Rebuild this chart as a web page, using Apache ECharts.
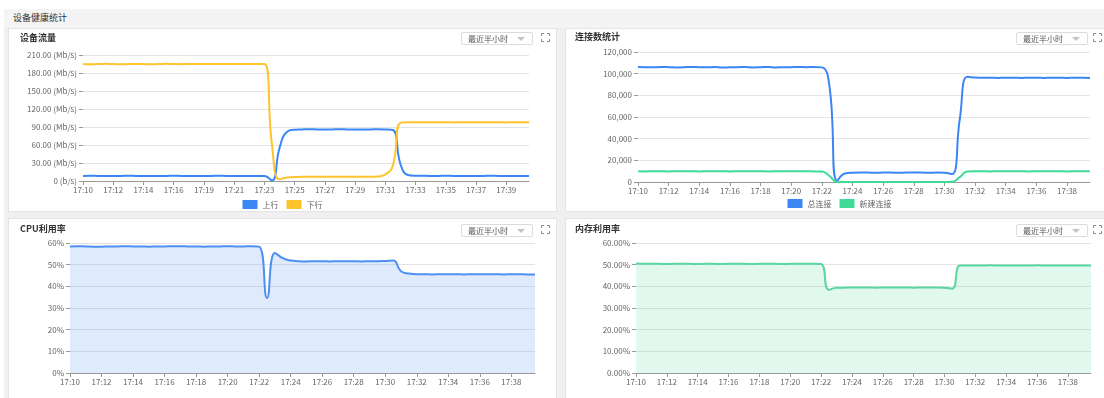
<!DOCTYPE html>
<html>
<head>
<meta charset="utf-8">
<script src="https://cdn.jsdelivr.net/npm/echarts@6/dist/echarts.min.js"></script>
<style>
html,body{margin:0;padding:0;width:1104px;height:398px;overflow:hidden;background:#fff;font-family:"Noto Sans CJK SC","Noto Sans",sans-serif;}
#page{position:absolute;left:4px;top:9px;width:1120px;height:400px;background:#f0f0f0;}
#head{position:absolute;left:4px;top:9px;width:1120px;height:19px;background:#f4f4f4;}
#head span{position:absolute;left:9px;top:3px;font-size:9px;color:#333;line-height:12px;}
.panel{position:absolute;width:547px;height:182px;background:#fff;border:1px solid #e4e4e4;}
.title{position:absolute;font-size:9px;font-weight:bold;color:#333;line-height:12px;white-space:nowrap;}
.chart{position:absolute;left:0;top:0;width:547px;height:182px;}
.sel{position:absolute;width:70px;height:11px;border:1px solid #dcdcdc;border-radius:2px;background:#fff;}
.sel span{position:absolute;left:6px;top:0;font-size:8px;line-height:11px;color:#555;white-space:nowrap;}
.sel i{position:absolute;right:7px;top:4px;width:0;height:0;border-left:4px solid transparent;border-right:4px solid transparent;border-top:4px solid #c4c4c4;}
.full{position:absolute;width:9px;height:9px;}
</style>
</head>
<body>
<div id="page"></div>
<div id="head"><span>设备健康统计</span></div>

<div class="panel" style="left:8px;top:28px;">
  <div class="chart" id="c1"></div>
  <div class="title" style="left:11px;top:3px;">设备流量</div>
  <div class="sel" style="left:452px;top:3px;"><span>最近半小时</span><i></i></div>
  <svg class="full" style="left:532px;top:4px;" viewBox="0 0 9 9"><path d="M0.5 3V0.5H3M6 0.5H8.5V3M8.5 6V8.5H6M3 8.5H0.5V6" stroke="#8a8a8a" fill="none"/></svg>
</div>
<div class="panel" style="left:565px;top:28px;">
  <div class="chart" id="c2"></div>
  <div class="title" style="left:9px;top:2px;">连接数统计</div>
  <div class="sel" style="left:450px;top:3px;"><span>最近半小时</span><i></i></div>
  <svg class="full" style="left:527px;top:4px;" viewBox="0 0 9 9"><path d="M0.5 3V0.5H3M6 0.5H8.5V3M8.5 6V8.5H6M3 8.5H0.5V6" stroke="#8a8a8a" fill="none"/></svg>
</div>
<div class="panel" style="left:8px;top:218px;">
  <div class="chart" id="c3"></div>
  <div class="title" style="left:11px;top:4px;">CPU利用率</div>
  <div class="sel" style="left:452px;top:5px;"><span>最近半小时</span><i></i></div>
  <svg class="full" style="left:532px;top:6px;" viewBox="0 0 9 9"><path d="M0.5 3V0.5H3M6 0.5H8.5V3M8.5 6V8.5H6M3 8.5H0.5V6" stroke="#8a8a8a" fill="none"/></svg>
</div>
<div class="panel" style="left:565px;top:218px;">
  <div class="chart" id="c4"></div>
  <div class="title" style="left:9px;top:4px;">内存利用率</div>
  <div class="sel" style="left:450px;top:5px;"><span>最近半小时</span><i></i></div>
  <svg class="full" style="left:527px;top:6px;" viewBox="0 0 9 9"><path d="M0.5 3V0.5H3M6 0.5H8.5V3M8.5 6V8.5H6M3 8.5H0.5V6" stroke="#8a8a8a" fill="none"/></svg>
</div>

<script>
// Sample times for the traffic panel
const trafficTimes = [
  '17:10:42','17:11:13','17:11:44','17:12:15','17:12:47','17:13:18','17:13:49','17:14:20','17:14:52','17:15:23',
  '17:15:54','17:16:25','17:16:57','17:17:28','17:17:59','17:18:30','17:19:02','17:19:33','17:20:04','17:20:35',
  '17:21:07','17:21:38','17:22:09','17:22:40','17:23:12','17:23:43','17:24:14','17:24:45','17:25:17','17:25:48',
  '17:26:19','17:26:50','17:27:22','17:27:53','17:28:24','17:28:55','17:29:27','17:29:58','17:30:29','17:31:00',
  '17:31:32','17:32:03','17:32:34','17:33:05','17:33:37','17:34:08','17:34:39','17:35:10','17:35:42','17:36:13',
  '17:36:44','17:37:15','17:37:47','17:38:18','17:38:49','17:39:20','17:39:52','17:40:23','17:40:54','17:41:25'
];
// Sample times for connections, CPU and memory panels
const statTimes = [
  '17:10:00','17:10:30','17:11:00','17:11:30','17:12:00','17:12:30','17:13:00','17:13:30','17:14:00','17:14:30',
  '17:15:00','17:15:30','17:16:00','17:16:30','17:17:00','17:17:30','17:18:00','17:18:30','17:19:00','17:19:30',
  '17:20:00','17:20:30','17:21:00','17:21:30','17:22:00','17:22:30','17:23:00','17:23:30','17:24:00','17:24:30',
  '17:25:00','17:25:30','17:26:00','17:26:30','17:27:00','17:27:30','17:28:00','17:28:30','17:29:00','17:29:30',
  '17:30:00','17:30:30','17:31:00','17:31:30','17:32:00','17:32:30','17:33:00','17:33:30','17:34:00','17:34:30',
  '17:35:00','17:35:30','17:36:00','17:36:30','17:37:00','17:37:30','17:38:00','17:38:30','17:39:00','17:39:30'
];

// 上行 (Mb/s)
const upstream = [
  8.5, 8.6, 8.5, 8.4, 8.5, 8.5, 8.6, 8.5, 8.4, 8.5, 8.5, 8.5, 8.6, 8.5, 8.5, 8.4, 8.5, 8.5, 8.6, 8.5,
  8.5, 8.5, 8.4, 8.5, 8.2, 1.0, 55, 82, 85.5, 86, 86.2, 86, 85.8, 86, 86.1, 86, 86, 85.9, 86, 86.2,
  86, 85, 28, 10, 8.8, 8.6, 8.5, 8.5, 8.6, 8.5, 8.5, 8.4, 8.5, 8.5, 8.6, 8.5, 8.5, 8.5, 8.4, 8.5
];
// 下行 (Mb/s)
const downstream = [
  195, 194.6, 195, 195.3, 195, 194.5, 194.8, 195.2, 195, 194.6, 195, 195.3, 195, 194.7, 195, 195.2, 194.8, 195, 195, 195.2,
  194.8, 195, 195, 195, 195, 60, 3, 6, 6.5, 7, 7, 7, 7.2, 7, 7, 7, 7.1, 7, 7, 7.5,
  11, 26, 97, 98, 97.8, 97.8, 97.9, 97.8, 97.8, 97.7, 97.8, 97.8, 97.8, 97.9, 97.8, 97.8, 97.7, 97.8, 97.8, 97.8
];
// 总连接
const totalConn = [
  106200, 106000, 105900, 106100, 106000, 105800, 105900, 106200, 106000, 105900, 106100, 105700, 105900, 106000, 106100, 105800, 106000, 106200, 105800, 105900,
  106000, 106100, 106000, 106100, 105800, 88000, 1200, 7800, 8600, 8700, 8700, 8600, 8700, 8700, 8600, 8700, 8700, 8700, 8600, 8700,
  8500, 7300, 58000, 97200, 96400, 96200, 96200, 96100, 96200, 96200, 96100, 96200, 96200, 96100, 96200, 96200, 96100, 96200, 96200, 96100
];
// 新建连接
const newConn = [
  9900, 9800, 9900, 9900, 9800, 9900, 9900, 9900, 9800, 9900, 9900, 9900, 9800, 9900, 9900, 9900, 9900, 9800, 9900, 9900,
  9900, 9900, 9900, 9800, 9600, 5500, 100, 80, 60, 70, 50, 60, 80, 70, 60, 50, 70, 60, 80, 70,
  60, 300, 4500, 9800, 9900, 9900, 9800, 9900, 9900, 9900, 9900, 9800, 9900, 9900, 9900, 9900, 9800, 9900, 9900, 9900
];
// CPU利用率 (%)
const cpuUsage = [
  58.4, 58.5, 58.4, 58.3, 58.3, 58.4, 58.4, 58.5, 58.4, 58.4, 58.3, 58.4, 58.4, 58.5, 58.5, 58.4, 58.4, 58.3, 58.4, 58.4,
  58.5, 58.4, 58.4, 58.5, 58.3, 34.6, 55.4, 53.0, 51.9, 51.6, 51.5, 51.6, 51.6, 51.5, 51.6, 51.6, 51.6, 51.5, 51.6, 51.6,
  51.7, 51.9, 47.0, 45.9, 45.6, 45.6, 45.5, 45.6, 45.6, 45.6, 45.5, 45.6, 45.6, 45.6, 45.6, 45.5, 45.6, 45.6, 45.5, 45.5
];
// 内存利用率 (%)
const memUsage = [
  50.5, 50.4, 50.4, 50.4, 50.3, 50.4, 50.4, 50.4, 50.3, 50.4, 50.4, 50.3, 50.4, 50.4, 50.4, 50.3, 50.4, 50.4, 50.4, 50.3,
  50.4, 50.4, 50.4, 50.4, 50.3, 38.4, 39.3, 39.4, 39.5, 39.5, 39.5, 39.4, 39.5, 39.5, 39.5, 39.5, 39.4, 39.5, 39.5, 39.5,
  39.4, 38.9, 49.6, 49.6, 49.6, 49.6, 49.7, 49.6, 49.6, 49.6, 49.6, 49.6, 49.7, 49.6, 49.6, 49.6, 49.6, 49.6, 49.6, 49.6
];

// Y-axis tick labels
const trafficTicks = ['0 (b/s)', '30.00 (Mb/s)', '60.00 (Mb/s)', '90.00 (Mb/s)', '120.00 (Mb/s)', '150.00 (Mb/s)', '180.00 (Mb/s)', '210.00 (Mb/s)'];
const connTicks = ['0', '20,000', '40,000', '60,000', '80,000', '100,000', '120,000'];
const cpuTicks = ['0%', '10%', '20%', '30%', '40%', '50%', '60%'];
const memTicks = ['0.00%', '10.00%', '20.00%', '30.00%', '40.00%', '50.00%', '60.00%'];

const FONT = '"Noto Sans CJK SC", "Noto Sans", sans-serif';
const BLUE = '#3a86f3';
const YELLOW = '#fec42d';
const GREEN = '#3fdb96';

function xAxis(times) {
  return {
    type: 'category', data: times, boundaryGap: false,
    axisLine: { lineStyle: { color: '#9a9a9a', width: 1 } },
    axisTick: { length: 4, interval: 3, lineStyle: { color: '#9a9a9a' } },
    axisLabel: { interval: 3, color: '#666', fontSize: 8, margin: 5, fontFamily: FONT, formatter: v => v.slice(0, 5) },
    splitLine: { show: false }
  };
}
function yAxis(max, step, ticks) {
  return {
    type: 'value', min: 0, max: max, interval: step,
    axisLine: { show: false },
    axisTick: { show: true, length: 4, lineStyle: { color: '#9a9a9a' } },
    axisLabel: { color: '#666', fontSize: 8, margin: 6, fontFamily: FONT, formatter: v => ticks[Math.round(v / step)] },
    splitLine: { lineStyle: { color: '#e4e4e4' } }
  };
}
function line(name, data, color, area) {
  const s = {
    name: name, type: 'line', data: data, smooth: true, showSymbol: false,
    lineStyle: { color: color, width: 2 }, itemStyle: { color: color }
  };
  if (area) s.areaStyle = { color: area, opacity: 1 };
  return s;
}
function legend(names, top) {
  return {
    data: names, top: top, left: 'center', icon: 'rect', itemWidth: 15, itemHeight: 9, itemGap: 8, padding: 0,
    textStyle: { fontSize: 8, color: '#666', fontFamily: FONT }
  };
}
function grid(left, top, width, height) {
  return { left: left, top: top, width: width, height: height, containLabel: false, outerBoundsMode: 'none' };
}

const charts = [
  ['c1', {
    animation: false, textStyle: { fontFamily: FONT },
    grid: grid(74, 26, 446, 126),
    legend: legend(['上行', '下行'], 171),
    xAxis: xAxis(trafficTimes),
    yAxis: yAxis(210, 30, trafficTicks),
    series: [line('上行', upstream, BLUE), line('下行', downstream, YELLOW)]
  }],
  ['c2', {
    animation: false, textStyle: { fontFamily: FONT },
    grid: grid(72, 23, 452, 130),
    legend: legend(['总连接', '新建连接'], 170),
    xAxis: xAxis(statTimes),
    yAxis: yAxis(120000, 20000, connTicks),
    series: [line('总连接', totalConn, BLUE), line('新建连接', newConn, GREEN)]
  }],
  ['c3', {
    animation: false, textStyle: { fontFamily: FONT },
    grid: grid(61, 24, 465, 130),
    xAxis: xAxis(statTimes),
    yAxis: yAxis(60, 10, cpuTicks),
    series: [line('CPU利用率', cpuUsage, '#4d90f2', 'rgba(77,144,242,0.18)')]
  }],
  ['c4', {
    animation: false, textStyle: { fontFamily: FONT },
    grid: grid(70, 24, 455, 130),
    xAxis: xAxis(statTimes),
    yAxis: yAxis(60, 10, memTicks),
    series: [line('内存利用率', memUsage, '#5ad6a0', 'rgba(90,214,160,0.18)')]
  }]
];

charts.forEach(([id, option]) => {
  const chart = echarts.init(document.getElementById(id), null, { renderer: 'canvas' });
  chart.setOption(option);
});
</script>
</body>
</html>
